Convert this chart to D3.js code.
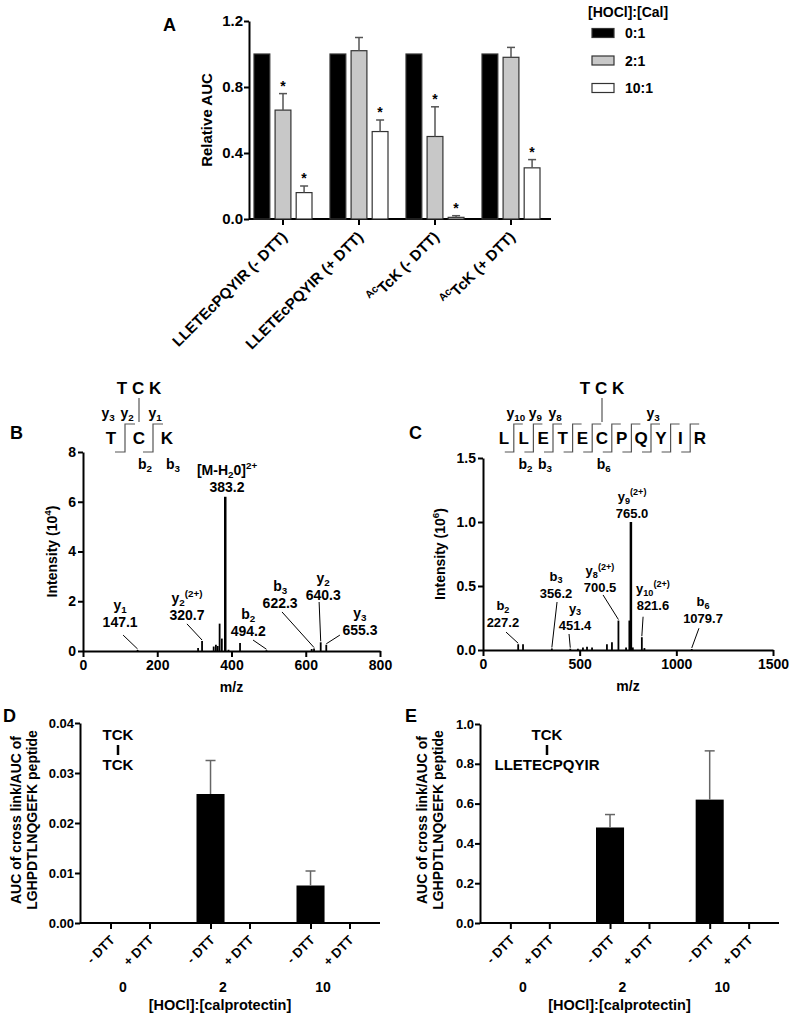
<!DOCTYPE html>
<html>
<head>
<meta charset="utf-8">
<script src="https://cdn.jsdelivr.net/npm/d3@7"></script>
<style>
body { margin: 0; background: #fff; }
text { font-family: "Liberation Sans", Arial, sans-serif; font-weight: bold; fill: #000; }
</style>
</head>
<body>
<svg id="fig" width="789" height="1018"></svg>
<script>
// ---------- panel A data
let groupsA = ["LLETEcPQYIR (- DTT)", "LLETEcPQYIR (+ DTT)", "AcTcK (- DTT)", "AcTcK (+ DTT)"]
let ratiosA = ["0:1", "2:1", "10:1"]
let meanA = [[1, 0.66, 0.16], [1, 1.02, 0.53], [1, 0.50, 0.01], [1, 0.98, 0.31]]
let errA = [[0, 0.10, 0.04], [0, 0.08, 0.07], [0, 0.18, 0.01], [0, 0.06, 0.05]]
let starA = [[0, 1, 1], [0, 0, 1], [0, 1, 1], [0, 0, 1]]
let colorsA = ["#000", "#c8c8c8", "#fff"]

// ---------- panel B data (m/z, intensity x10^4)
let mzB = [147.1, 310, 320.7, 352, 358, 363, 368, 374, 383.2, 392, 423, 494.2, 616, 622.3, 640.3, 655.3]
let intB = [0.04, 0.12, 0.4, 0.18, 0.25, 0.2, 1.1, 0.5, 6.2, 0.05, 0.32, 0.03, 0.08, 0.1, 0.35, 0.25]
let ionsB = ["y_{1}", "y_{2}^{(2+)}", "[M-H_{2}0]^{2+}", "b_{2}", "b_{3}", "y_{2}", "y_{3}"]
let ionMzB = [147.1, 320.7, 383.2, 494.2, 622.3, 640.3, 655.3]

// ---------- panel C data (m/z, intensity x10^6)
let mzC = [182, 207, 356.2, 451.4, 491, 517, 538, 564, 641, 667, 700.5, 740, 757, 765.0, 775, 821.6, 835, 1079.7]
let intC = [0.045, 0.045, 0.012, 0.01, 0.01, 0.02, 0.025, 0.02, 0.045, 0.06, 0.23, 0.02, 0.23, 1.0, 0.02, 0.10, 0.015, 0.008]
let ionsC = ["b_{2}", "b_{3}", "y_{3}", "y_{8}^{(2+)}", "y_{9}^{(2+)}", "y_{10}^{(2+)}", "b_{6}"]
let ionMzC = [227.2, 356.2, 451.4, 700.5, 765.0, 821.6, 1079.7]

// peptide sequences
let seqB = ["T", "C", "K"]
let yIonsB = [3, 2, 1]
let bIonsB = [2, 3]
let seqC = ["L", "L", "E", "T", "E", "C", "P", "Q", "Y", "I", "R"]
let yIonsC = [10, 9, 8, 3]
let bIonsC = [2, 3, 6]

// ---------- panels D / E data
let doseDE = ["0", "2", "10"]
let dttDE = ["- DTT", "+ DTT"]
let meanD = [[0, 0], [0.0258, 0], [0.0075, 0]]
let errD = [[0, 0], [0.0067, 0], [0.0029, 0]]
let meanE = [[0, 0], [0.48, 0], [0.62, 0]]
let errE = [[0, 0], [0.065, 0], [0.245, 0]]

// label layout for the spectra, in data units: [m/z, intensity]
let labelPosB = [[100, 0.96], [280, 1.25], [388, 6.39], [445, 0.60], [531, 1.73], [647, 2.05], [746, 0.64]]
let leadFromB = [[108, 0.64], [280, 1.09], null, [458, 0.44], [536, 1.57], [636, 1.97], [692, 0.64]]
let leadToB = [147.1, 320.7, 383.2, 494.2, 622.3, 640.3, 655.3]
let labelPosC = [[103, 0.18], [378, 0.41], [476, 0.16], [605, 0.45], [771, 1.03], [879, 0.31], [1138, 0.21]]
let leadFromC = [[119, 0.14], [383, 0.375], [445, 0.125], [621, 0.43], null, [828, 0.26], [1117, 0.17]]
let leadToC = [182, 356.2, 451.4, 700.5, 765.0, 821.6, 1079.7]

let svg = d3.select("#fig")
svg.append("rect").attr("width", 789).attr("height", 1018).attr("fill", "#fff")

// text with _{sub} and ^{sup}
let addRich = (t, str, size) => {
    let parts = str.match(/_\{[^}]*\}|\^\{[^}]*\}|[^_^]+/g)
    let shift = 0
    parts.forEach(p => {
        let kind = p[0] === "_" ? "sub" : p[0] === "^" ? "sup" : null
        let txt = kind ? p.slice(2, -1) : p
        let target = kind === "sub" ? size * 0.22 : kind === "sup" ? -size * 0.45 : 0
        t.append("tspan").attr("dy", target - shift).attr("font-size", kind ? size * 0.7 : size).text(txt)
        shift = target
    })
    return t
}

let styleAxis = (g, size) => {
    g.attr("font-family", null).attr("font-size", null)
    g.select(".domain").attr("stroke-width", 2)
    g.selectAll(".tick line").attr("stroke-width", 2)
    g.selectAll(".tick text").attr("font-size", size)
}

let panelLetter = (x, y, s) => svg.append("text").attr("x", x).attr("y", y).attr("font-size", 18).text(s)

let yTitle = (x, y, str, size) => {
    let t = svg.append("text").attr("transform", `translate(${x},${y}) rotate(-90)`)
        .attr("text-anchor", "middle").attr("font-size", size)
    addRich(t, str, size)
}

// ================= Panel A
panelLetter(163, 31, "A")
let yA = d3.scaleLinear().domain([0, 1.2]).range([219, 21])
let xA = d3.scaleBand().domain(groupsA).range([245, 549])
let xAin = d3.scaleBand().domain(ratiosA).range([0, 58]).paddingInner(0.25)

svg.append("g").attr("transform", "translate(249,0)")
    .call(d3.axisLeft(yA).tickValues([0, 0.4, 0.8, 1.2]).tickFormat(d3.format(".1f")).tickSize(5).tickSizeOuter(0).tickPadding(1))
    .call(g => styleAxis(g, 15))
svg.append("g").attr("transform", "translate(0,219)")
    .call(d3.axisBottom(xA).tickSize(6).tickSizeOuter(0).tickFormat(""))
    .call(g => { styleAxis(g, 15); g.select(".domain").attr("d", "M249,0H551") })

yTitle(212, 120, "Relative AUC", 15)

let rowsA = groupsA.flatMap((grp, gi) => ratiosA.map((r, ri) => ({
    grp: grp, r: r, ri: ri, v: meanA[gi][ri], e: errA[gi][ri], star: starA[gi][ri]
})))
let barX = d => xA(d.grp) + xA.bandwidth() / 2 - 29 + xAin(d.r)
let barC = d => barX(d) + xAin.bandwidth() / 2

svg.append("g").selectAll("rect").data(rowsA).join("rect")
    .attr("x", barX).attr("width", xAin.bandwidth())
    .attr("y", d => yA(d.v)).attr("height", d => yA(0) - yA(d.v))
    .attr("fill", d => colorsA[d.ri]).attr("stroke", "#333").attr("stroke-width", 1.2)

let errRowsA = rowsA.filter(d => d.e > 0)
let errG = svg.append("g").attr("stroke", "#555").attr("stroke-width", 1.5)
errG.selectAll(".v").data(errRowsA).join("line").attr("class", "v")
    .attr("x1", barC).attr("x2", barC).attr("y1", d => yA(d.v)).attr("y2", d => yA(d.v + d.e))
errG.selectAll(".c").data(errRowsA).join("line").attr("class", "c")
    .attr("x1", d => barC(d) - 4).attr("x2", d => barC(d) + 4)
    .attr("y1", d => yA(d.v + d.e)).attr("y2", d => yA(d.v + d.e))

svg.append("g").selectAll("text").data(rowsA.filter(d => d.star)).join("text")
    .attr("x", barC).attr("y", d => yA(d.v + d.e) - 3).attr("text-anchor", "middle")
    .attr("font-size", 14).text("*")

groupsA.forEach(grp => {
    let cx = xA(grp) + xA.bandwidth() / 2
    let t = svg.append("text").attr("transform", `translate(${cx + 5},238) rotate(-45)`)
        .attr("text-anchor", "end").attr("font-size", 15)
    if (grp.startsWith("Ac")) addRich(t, "^{Ac}" + grp.slice(2), 15)
    else t.text(grp)
})

// legend
svg.append("text").attr("x", 588).attr("y", 17).attr("font-size", 14).text("[HOCl]:[Cal]")
ratiosA.forEach((r, i) => {
    let cy = 33 + i * 27.5
    svg.append("rect").attr("x", 592).attr("y", cy - 4.5).attr("width", 22).attr("height", 9)
        .attr("fill", colorsA[i]).attr("stroke", "#333").attr("stroke-width", 1.2)
    svg.append("text").attr("x", 625).attr("y", cy + 5).attr("font-size", 14).text(r)
})

// ================= Spectra (B, C)
let drawSpectrum = (o) => {
    let x = d3.scaleLinear().domain(o.xDomain).range(o.xRange)
    let y = d3.scaleLinear().domain(o.yDomain).range(o.yRange)
    svg.append("g").attr("transform", `translate(0,${o.yRange[0]})`)
        .call(d3.axisBottom(x).tickValues(o.xTicks).tickSize(6).tickSizeOuter(0).tickFormat(d3.format("d")))
        .call(g => styleAxis(g, 14))
    svg.append("g").attr("transform", `translate(${o.xRange[0]},0)`)
        .call(d3.axisLeft(y).tickValues(o.yTicks).tickSize(5).tickSizeOuter(0).tickPadding(2).tickFormat(d3.format(o.yFmt)))
        .call(g => styleAxis(g, 14))

    svg.append("g").selectAll("line").data(o.mz).join("line")
        .attr("x1", d => x(d)).attr("x2", d => x(d))
        .attr("y1", y(0)).attr("y2", (d, i) => y(o.inten[i]))
        .attr("stroke", "#000").attr("stroke-width", (d, i) => o.inten[i] > o.yDomain[1] * 0.5 ? 2.5 : 1.8)

    let peakTop = m => {
        let i = d3.minIndex(o.mz, d => Math.abs(d - m))
        return o.inten[i]
    }
    o.ions.forEach((ion, i) => {
        let [lm, li] = o.labelPos[i]
        let t = svg.append("text").attr("x", x(lm)).attr("y", y(li) - 17).attr("text-anchor", "middle").attr("font-size", o.fs)
        addRich(t, ion, o.fs)
        svg.append("text").attr("x", x(lm)).attr("y", y(li)).attr("text-anchor", "middle").attr("font-size", o.fs)
            .text(o.ionMz[i].toFixed(1))
        if (o.leadFrom[i]) {
            let [fm, fi] = o.leadFrom[i]
            svg.append("line").attr("x1", x(fm)).attr("y1", y(fi))
                .attr("x2", x(o.leadTo[i])).attr("y2", y(peakTop(o.leadTo[i])) - 1)
                .attr("stroke", "#000").attr("stroke-width", 1)
        }
    })

    yTitle(o.yTitleX, (o.yRange[0] + o.yRange[1]) / 2, o.yTitle, 14)
    svg.append("text").attr("x", (o.xRange[0] + o.xRange[1]) / 2).attr("y", o.yRange[0] + 41)
        .attr("text-anchor", "middle").attr("font-size", 14).text("m/z")
}

// peptide fragmentation diagram
let drawSequence = (o) => {
    let step = o.step
    let p = d3.scalePoint().domain(d3.range(o.seq.length)).range([o.x0, o.x0 + step * (o.seq.length - 1)])
    let g = svg.append("g")
    g.selectAll(".res").data(o.seq).join("text").attr("class", "res")
        .attr("x", (d, i) => p(i)).attr("y", o.rowY).attr("text-anchor", "middle").attr("font-size", 17).text(d => d)
    let cuts = d3.range(1, o.seq.length)
    g.selectAll(".br").data(cuts).join("path").attr("class", "br")
        .attr("d", k => {
            let m = p(k) - step / 2
            return `M${m - o.half},${o.rowY + 8}H${m}V${o.rowY - 20}H${m + o.half}`
        })
        .attr("fill", "none").attr("stroke", "#555").attr("stroke-width", 1.2)
    o.yIons.forEach(n => {
        let k = o.seq.length - n
        let xx = k === 0 ? p(0) - 3 : p(k) - step / 2 + 2
        addRich(g.append("text").attr("x", xx).attr("y", o.rowY - 26).attr("text-anchor", "middle").attr("font-size", 14), "y_{" + n + "}", 14)
    })
    o.bIons.forEach(n => {
        let xx = p(0) + step * n - step / 2 - 8
        addRich(g.append("text").attr("x", xx).attr("y", o.rowY + 25).attr("text-anchor", "middle").attr("font-size", 14), "b_{" + n + "}", 14)
    })
    let cx = p(o.link)
    g.append("text").attr("x", cx).attr("y", o.rowY - 50).attr("text-anchor", "middle").attr("font-size", 17).text("T C K")
    g.append("line").attr("x1", cx).attr("x2", cx).attr("y1", o.rowY - 46).attr("y2", o.rowY - 22)
        .attr("stroke", "#555").attr("stroke-width", 1.2)
}

panelLetter(10, 439, "B")
drawSequence({ seq: seqB, x0: 111, step: 28, rowY: 444, half: 10, yIons: yIonsB, bIons: bIonsB, link: 1 })
drawSpectrum({
    xDomain: [0, 800], xRange: [83, 380], yDomain: [0, 8], yRange: [651, 452],
    xTicks: [0, 200, 400, 600, 800], yTicks: [0, 2, 4, 6, 8], yFmt: "d",
    mz: mzB, inten: intB, ions: ionsB, ionMz: ionMzB,
    labelPos: labelPosB, leadFrom: leadFromB, leadTo: leadToB, fs: 14,
    yTitle: "Intensity (10^{4})", yTitleX: 57
})

panelLetter(409, 439, "C")
drawSequence({ seq: seqC, x0: 504, step: 19.6, rowY: 444, half: 9, yIons: yIonsC, bIons: bIonsC, link: 5 })
drawSpectrum({
    xDomain: [0, 1500], xRange: [483, 773], yDomain: [0, 1.5], yRange: [650, 458],
    xTicks: [0, 500, 1000, 1500], yTicks: [0, 0.5, 1.0, 1.5], yFmt: ".1f",
    mz: mzC, inten: intC, ions: ionsC, ionMz: ionMzC,
    labelPos: labelPosC, leadFrom: leadFromC, leadTo: leadToC, fs: 13,
    yTitle: "Intensity (10^{6})", yTitleX: 445
})

// ================= Bar panels (D, E)
let drawBars = (o) => {
    let y = d3.scaleLinear().domain(o.yDomain).range([923, o.yTop])
    let x0 = d3.scaleBand().domain(doseDE).range(o.xRange)
    let x1 = d3.scaleBand().domain(dttDE).range([-33.5, 33.5]).paddingInner(0.28)
    let keys = doseDE.flatMap(d => dttDE.map(t => d + "|" + t))
    let pos = k => {
        let [d, t] = k.split("|")
        return x0(d) + x0.bandwidth() / 2 + x1(t) + x1.bandwidth() / 2
    }
    let xk = d3.scaleOrdinal().domain(keys).range(keys.map(pos))

    svg.append("g").attr("transform", `translate(${o.xRange[0]},0)`)
        .call(d3.axisLeft(y).tickValues(o.yTicks).tickSize(5).tickSizeOuter(0).tickPadding(1).tickFormat(d3.format(o.yFmt)))
        .call(g => styleAxis(g, 13))
    svg.append("g").attr("transform", "translate(0,923)")
        .call(d3.axisBottom(xk).tickSize(6).tickSizeOuter(0).tickFormat(""))
        .call(g => { styleAxis(g, 13); g.select(".domain").attr("d", `M${o.xRange[0]},0H${o.xRange[1]}`) })

    svg.append("g").selectAll("text").data(keys).join("text")
        .attr("transform", k => `translate(${xk(k) + 5},941) rotate(-45)`)
        .attr("text-anchor", "end").attr("font-size", 13).text(k => k.split("|")[1])

    svg.append("g").selectAll("text").data(doseDE).join("text")
        .attr("x", d => x0(d) + x0.bandwidth() / 2 - 7).attr("y", 992)
        .attr("text-anchor", "middle").attr("font-size", 14).text(d => d)

    let rows = keys.map((k, i) => ({ k: k, v: o.mean[Math.floor(i / 2)][i % 2], e: o.err[Math.floor(i / 2)][i % 2] }))
        .filter(d => d.v > 0)
    svg.append("g").selectAll("rect").data(rows).join("rect")
        .attr("x", d => xk(d.k) - x1.bandwidth() / 2).attr("width", x1.bandwidth())
        .attr("y", d => y(d.v)).attr("height", d => y(0) - y(d.v)).attr("fill", "#000")
    let eg = svg.append("g").attr("stroke", "#666").attr("stroke-width", 1.5)
    eg.selectAll(".v").data(rows).join("line").attr("class", "v")
        .attr("x1", d => xk(d.k)).attr("x2", d => xk(d.k)).attr("y1", d => y(d.v)).attr("y2", d => y(d.v + d.e))
    eg.selectAll(".c").data(rows).join("line").attr("class", "c")
        .attr("x1", d => xk(d.k) - 5).attr("x2", d => xk(d.k) + 5)
        .attr("y1", d => y(d.v + d.e)).attr("y2", d => y(d.v + d.e))

    let cx = (o.xRange[0] + o.xRange[1]) / 2
    svg.append("text").attr("x", cx - 10).attr("y", 1010).attr("text-anchor", "middle").attr("font-size", 14.5)
        .text("[HOCl]:[calprotectin]")
    yTitle(o.titleX[0], 820, "AUC of cross link/AUC of", 14)
    yTitle(o.titleX[1], 820, "LGHPDTLNQGEFK peptide", 14)

    svg.append("text").attr("x", o.linkX).attr("y", 740).attr("text-anchor", "middle").attr("font-size", 15).text("TCK")
    svg.append("line").attr("x1", o.linkX).attr("x2", o.linkX).attr("y1", 745).attr("y2", 755)
        .attr("stroke", "#000").attr("stroke-width", 2.5)
    svg.append("text").attr("x", o.linkX).attr("y", 770).attr("text-anchor", "middle").attr("font-size", 15).text(o.partner)
}

panelLetter(3, 722, "D")
drawBars({
    xRange: [80, 380], yDomain: [0, 0.04], yTop: 723, yTicks: [0, 0.01, 0.02, 0.03, 0.04], yFmt: ".2f",
    mean: meanD, err: errD, titleX: [21, 37], linkX: 118, partner: "TCK"
})
panelLetter(405, 722, "E")
drawBars({
    xRange: [480, 779], yDomain: [0, 1.0], yTop: 724, yTicks: [0, 0.2, 0.4, 0.6, 0.8, 1.0], yFmt: ".1f",
    mean: meanE, err: errE, titleX: [427, 443], linkX: 547, partner: "LLETECPQYIR"
})
</script>
</body>
</html>
